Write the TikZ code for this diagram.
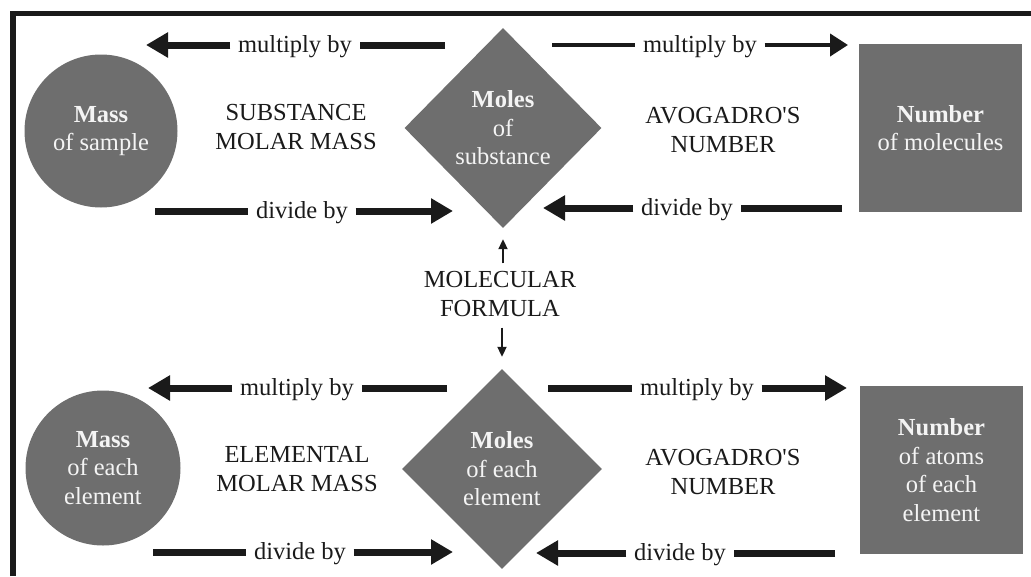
\documentclass[tikz,border=0pt]{standalone}
\usepackage{fontspec}
\setmainfont{Liberation Serif}
\usetikzlibrary{arrows.meta,shapes.geometric}
\definecolor{shapegray}{HTML}{6E6E6E}
\definecolor{ink}{HTML}{1A1A1A}
\definecolor{paleink}{HTML}{F4F4F4}
\AtBeginDocument{\fontsize{24.5}{28.5}\selectfont}
\begin{document}
\begin{tikzpicture}[x=1pt,y=-1pt,
  every node/.style={font=\fontsize{24.5}{28.5}\selectfont, text=ink},
  lbl/.style={anchor=base, inner sep=0pt, inner xsep=7.5pt},
  plain/.style={align=center, inner sep=0pt},
  blob/.style={fill=shapegray, draw=none, text=paleink, align=center, inner sep=0pt},
  big/.style={line width=7pt, draw=ink},
  bigtip/.style={big, -{Triangle[length=22pt,width=24pt]}},
  thinbig/.style={line width=4pt, draw=ink},
  thintip/.style={thinbig, -{Triangle[length=18pt,width=22pt]}},
  smallarrow/.style={line width=2pt, draw=ink, -{Triangle[length=10pt,width=9pt]}}
]
\useasboundingbox (0,0) rectangle (1031,576);
% frame
\draw[line width=5.5pt, ink] (13,576) -- (13,13.5) -- (1031,13.5);

% ---------- upper row shapes
\node[blob, circle, minimum size=153pt] (c1) at (101,131) {\textbf{Mass}\\of sample};
\node[blob, diamond, minimum width=197pt, minimum height=200pt] (dm1) at (503,128) {\textbf{Moles}\\of\\substance};
\node[blob, rectangle, minimum width=163pt, minimum height=168pt] (s1) at (940.5,128) {\textbf{Number}\\of molecules};

\node[plain] (t1) at (296,127) {SUBSTANCE\\MOLAR MASS};
\node[plain] (t2) at (723,130) {AVOGADRO\textquotesingle S\\NUMBER};

% ---------- lower row shapes
\node[blob, circle, minimum size=155pt] (c2) at (103,468) {\textbf{Mass}\\of each\\element};
\node[blob, diamond, minimum width=200pt, minimum height=200pt] (dm2) at (502,469) {\textbf{Moles}\\of each\\element};
\node[blob, rectangle, minimum width=163pt, minimum height=168pt] (s2) at (941.5,470) {\textbf{Number}\\of atoms\\of each\\element};

\node[plain] (t3) at (297,469) {ELEMENTAL\\MOLAR MASS};
\node[plain] (t4) at (723,472) {AVOGADRO\textquotesingle S\\NUMBER};

% ---------- molecular formula
\node[plain] (mf) at (500,294) {MOLECULAR\\FORMULA};
\draw[smallarrow, shorten <=8pt, shorten >=11pt] (dm1.south |- mf.north) -- (dm1.south);
\draw[smallarrow, shorten <=11pt, shorten >=12pt] (dm2.north |- mf.south) -- (dm2.north);

% ---------- upper arrows
% multiply left
\node[lbl] (ml1) at (295,52) {multiply by};
\coordinate (ml1s) at (445,45); \coordinate (ml1t) at (146,45);
\draw[big] (ml1s) -- (ml1s -| ml1.east);
\draw[bigtip] (ml1t -| ml1.west) -- (ml1t);
% multiply right
\node[lbl] (mr1) at (700,52) {multiply by};
\coordinate (mr1s) at (552,45); \coordinate (mr1t) at (848,45);
\draw[thinbig] (mr1s) -- (mr1s -| mr1.west);
\draw[thintip] (mr1t -| mr1.east) -- (mr1t);
% divide left
\node[lbl] (dl1) at (302,218) {divide by};
\coordinate (dl1s) at (155,211); \coordinate (dl1t) at (453,211);
\draw[big] (dl1s) -- (dl1s -| dl1.west);
\draw[bigtip] (dl1t -| dl1.east) -- (dl1t);
% divide right
\node[lbl] (dr1) at (687,215) {divide by};
\coordinate (dr1s) at (842,208); \coordinate (dr1t) at (543,208);
\draw[big] (dr1s) -- (dr1s -| dr1.east);
\draw[bigtip] (dr1t -| dr1.west) -- (dr1t);

% ---------- lower arrows
\node[lbl] (ml2) at (297,395) {multiply by};
\coordinate (ml2s) at (447,388); \coordinate (ml2t) at (148,388);
\draw[big] (ml2s) -- (ml2s -| ml2.east);
\draw[bigtip] (ml2t -| ml2.west) -- (ml2t);

\node[lbl] (mr2) at (697,395) {multiply by};
\coordinate (mr2s) at (548,388); \coordinate (mr2t) at (847,388);
\draw[big] (mr2s) -- (mr2s -| mr2.west);
\draw[bigtip] (mr2t -| mr2.east) -- (mr2t);

\node[lbl] (dl2) at (300,559) {divide by};
\coordinate (dl2s) at (153,552); \coordinate (dl2t) at (453,552);
\draw[big] (dl2s) -- (dl2s -| dl2.west);
\draw[bigtip] (dl2t -| dl2.east) -- (dl2t);

\node[lbl] (dr2) at (680,560) {divide by};
\coordinate (dr2s) at (835,553); \coordinate (dr2t) at (536,553);
\draw[big] (dr2s) -- (dr2s -| dr2.east);
\draw[bigtip] (dr2t -| dr2.west) -- (dr2t);
\end{tikzpicture}
\end{document}
